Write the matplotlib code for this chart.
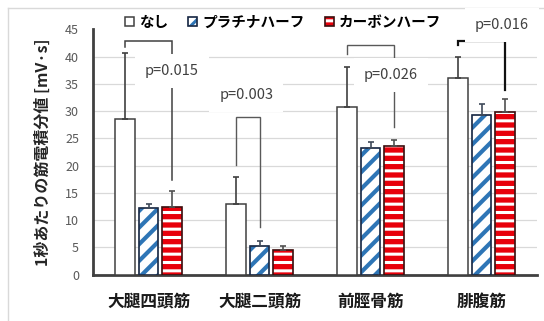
import matplotlib
matplotlib.use("Agg")
import matplotlib.pyplot as plt
import numpy as np
from matplotlib.lines import Line2D
from matplotlib.patches import Patch
from matplotlib.legend_handler import HandlerTuple

plt.rcParams['font.family'] = ['Noto Sans CJK JP', 'DejaVu Sans']
plt.rcParams['hatch.linewidth'] = 2.2

# ---- data -------------------------------------------------------------
categories = ['大腿四頭筋', '大腿二頭筋', '前脛骨筋', '腓腹筋']
series_names = ['なし', 'プラチナハーフ', 'カーボンハーフ']
none_mean = [28.5, 12.9, 30.7, 36.1]
none_err = [12.1, 5.0, 7.4, 3.8]
platinum_mean = [12.2, 5.2, 23.2, 29.3]
platinum_err = [0.7, 0.9, 1.1, 2.0]
carbon_mean = [12.4, 4.5, 23.6, 29.8]
carbon_err = [2.9, 0.7, 1.1, 2.4]
y_ticks = [0, 5, 10, 15, 20, 25, 30, 35, 40, 45]

# significance brackets (series index 0 = なし, 1 = プラチナ, 2 = カーボン)
bracket_left = [0, 0, 0, 0]
bracket_right = [2, 1, 2, 2]
bracket_top = [42.9, 28.9, 42.1, 42.9]
bracket_left_end = [41.8, 20.1, 40.5, 42.1]
bracket_right_end = [17.3, 8.7, 27.1, 33.9]
bracket_colors = ['#404040', '#595959', '#595959', '#111111']
bracket_widths = [1.1, 1.0, 1.0, 1.6]
p_labels = ['p=0.015', 'p=0.003', 'p=0.026', 'p=0.016']
p_label_dx = [0.21, -0.12, 0.185, 0.185]
p_label_y = [37.3, 32.9, 36.6, 45.8]

# ---- figure -----------------------------------------------------------
W, H = 544, 321
fig = plt.figure(figsize=(W / 100, H / 100), dpi=100)
ax = fig.add_axes([93 / W, 1 - 274.5 / H, (537 - 93) / W, (274.5 - 29.3) / H])

x = np.arange(len(categories))
width = 0.18
offsets = [-0.216, 0.0, 0.216]
dark = '#404040'
blue = '#2e75b6'
red = '#e8000b'


def thicken_hatch(patches, lw):
    for p in patches:
        if hasattr(p, 'set_hatch_linewidth'):
            p.set_hatch_linewidth(lw)


# なし : plain white bars
ax.bar(x + offsets[0], none_mean, width, facecolor='white', edgecolor=dark,
       linewidth=1.1, zorder=3)

# プラチナハーフ : white with blue diagonal stripes
plat = ax.bar(x + offsets[1], platinum_mean, width, facecolor='white', edgecolor=blue,
              hatch='//', linewidth=0.3, zorder=3)
thicken_hatch(plat, 3.0)
ax.bar(x + offsets[1], platinum_mean, width, fill=False, edgecolor='#1c2a44',
       linewidth=1.2, zorder=4)

# カーボンハーフ : red with white horizontal stripes
carb = ax.bar(x + offsets[2], carbon_mean, width, facecolor=red, edgecolor='white',
              hatch='--', linewidth=0.3, zorder=3)
thicken_hatch(carb, 2.2)
ax.bar(x + offsets[2], carbon_mean, width, fill=False, edgecolor='#3a0a0a',
       linewidth=1.2, zorder=4)

# upper error bars only
for off, m, e, c in [(offsets[0], none_mean, none_err, dark),
                     (offsets[1], platinum_mean, platinum_err, '#404a5a'),
                     (offsets[2], carbon_mean, carbon_err, '#505050')]:
    ax.errorbar(x + off, m, yerr=[np.zeros(len(m)), e], fmt='none', ecolor=c,
                elinewidth=1.2, capsize=2.5, capthick=1.2, zorder=5)

# brackets and p-values (labels sit on white boxes that mask the lines behind)
for i in range(len(categories)):
    xl = x[i] + offsets[bracket_left[i]]
    xr = x[i] + offsets[bracket_right[i]]
    ax.plot([xl, xl, xr, xr],
            [bracket_left_end[i], bracket_top[i], bracket_top[i], bracket_right_end[i]],
            color=bracket_colors[i], linewidth=bracket_widths[i], zorder=2,
            solid_joinstyle='miter', clip_on=False)
    ax.text(x[i] + p_label_dx[i], p_label_y[i], p_labels[i], ha='center', va='center',
            fontsize=10.5, color='#404040', zorder=6, clip_on=False,
            bbox=dict(boxstyle='square,pad=0.7', facecolor='white', edgecolor='none'))

# axes styling
ax.set_xlim(-0.5, len(categories) - 0.5)
ax.set_ylim(0, 45)
ax.set_yticks(y_ticks)
ax.set_xticks(x)
ax.set_xticklabels(categories, fontsize=12, fontweight='bold', color='#1a1a1a')
ax.tick_params(axis='x', length=0, pad=13)
ax.tick_params(axis='y', length=0, pad=10, labelsize=9, labelcolor='#595959')
ax.yaxis.grid(True, color='#d9d9d9', linewidth=0.9)
ax.set_axisbelow(True)
gl = ax.get_ygridlines()
gl[0].set_visible(False)
gl[-1].set_visible(False)
for s in ['top', 'right']:
    ax.spines[s].set_visible(False)
ax.spines['left'].set_color(dark)
ax.spines['left'].set_linewidth(2.0)
ax.spines['bottom'].set_color(dark)
ax.spines['bottom'].set_linewidth(2.0)

fig.text(43 / W, 1 - 152 / H, '1秒あたりの筋電積分値 [mV·s]', rotation=90,
         ha='center', va='center', fontsize=11.5, fontweight='bold', color='#262626')

# legend
h_none = Patch(facecolor='white', edgecolor=dark, linewidth=1.1)
h_plat = (Patch(facecolor='white', edgecolor=blue, hatch='//', linewidth=0.3),
          Patch(fill=False, edgecolor='#1c2a44', linewidth=1.2))
h_carb = (Patch(facecolor=red, edgecolor='white', hatch='--', linewidth=0.3),
          Patch(fill=False, edgecolor='#3a0a0a', linewidth=1.2))
fig.legend([h_none, h_plat, h_carb], series_names, loc='center',
           bbox_to_anchor=(283 / W, 1 - 22 / H), ncol=3, frameon=False,
           prop={'size': 10.5, 'weight': 'bold'}, handlelength=0.6, handleheight=0.6,
           handletextpad=0.35, columnspacing=1.4,
           handler_map={tuple: HandlerTuple(ndivide=1)})

# light outer frame
fig.add_artist(Line2D([8 / W, 8 / W], [0, 1 - 8 / H], transform=fig.transFigure,
                      color='#d9d9d9', linewidth=1.0, zorder=-1))
fig.add_artist(Line2D([8 / W, 1], [1 - 8 / H, 1 - 8 / H], transform=fig.transFigure,
                      color='#d9d9d9', linewidth=1.0, zorder=-1))

fig.savefig('out.png', dpi=100)
